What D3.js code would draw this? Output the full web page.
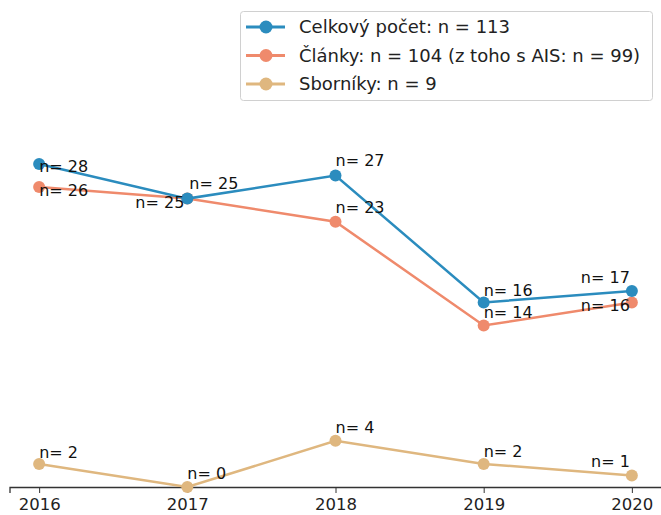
<!DOCTYPE html>
<html>
<head>
<meta charset="utf-8">
<script src="https://cdn.jsdelivr.net/npm/d3@7"></script>
<style>
    body { margin: 0; background: #fff; }
    text { font-family: "DejaVu Sans", sans-serif; }
</style>
</head>
<body>
<div id="chart"></div>
<script>
var years = [2016, 2017, 2018, 2019, 2020];
var celkem = [28, 25, 27, 16, 17];
var clanky = [26, 25, 23, 14, 16];
var sborniky = [2, 0, 4, 2, 1];
var seriesNames = [
    'Celkový počet: n = 113',
    'Články: n = 104 (z toho s AIS: n = 99)',
    'Sborníky: n = 9'
];

// label placement per point: [dx, dy of text center, anchor]
var labelPos = [
    [[0, 2, 'start'], [2, -15, 'start'], [0, -15, 'start'], [0, -12, 'start'], [-2, -13, 'end']],
    [[0, 3, 'start'], [-3, 4, 'end'], [0, -14, 'start'], [0, -13, 'start'], [-2, 3, 'end']],
    [[0, -12, 'start'], [0, -14, 'start'], [0, -13, 'start'], [0, -13, 'start'], [-2, -14, 'end']]
];

function drawChart(selector) {
    var width = 661, height = 515;
    var colors = ['#2b8cbe', '#ef8a6c', '#dfb77f'];
    var data = [celkem, clanky, sborniky];

    var svg = d3.select(selector).append('svg')
        .attr('width', width)
        .attr('height', height);

    var x = d3.scaleLinear()
        .domain([years[0] - 0.2, years[years.length - 1] + 0.2])
        .range([9.5, 661.5]);
    var y = d3.scaleLinear()
        .domain([0, 28])
        .range([487, 164]);

    var xAxis = d3.axisBottom(x)
        .tickValues(years)
        .tickFormat(d3.format('d'))
        .tickSize(6)
        .tickPadding(5);

    var gx = svg.append('g')
        .attr('transform', 'translate(0,' + 487 + ')')
        .call(xAxis);
    gx.select('.domain').attr('stroke', '#333').attr('stroke-width', 1.3);
    gx.selectAll('.tick line').attr('stroke', '#333');
    gx.selectAll('.tick text')
        .attr('fill', '#222')
        .style('font-size', '16.5px')
        .style('font-family', '"DejaVu Sans", sans-serif');

    var line = d3.line()
        .x(function(d, i) { return x(years[i]); })
        .y(function(d) { return y(d); });

    // draw bottom series first so the blue one sits on top
    [2, 1, 0].forEach(function(s) {
        var g = svg.append('g').attr('class', 'series');
        g.append('path')
            .datum(data[s])
            .attr('d', line)
            .attr('fill', 'none')
            .attr('stroke', colors[s])
            .attr('stroke-width', 2.5);
        g.selectAll('circle')
            .data(data[s])
            .enter()
            .append('circle')
            .attr('cx', function(d, i) { return x(years[i]); })
            .attr('cy', function(d) { return y(d); })
            .attr('r', 6)
            .attr('fill', colors[s]);
    });

    [0, 1, 2].forEach(function(s) {
        svg.append('g').selectAll('text')
            .data(data[s])
            .enter()
            .append('text')
            .attr('x', function(d, i) { return x(years[i]) + labelPos[s][i][0]; })
            .attr('y', function(d, i) { return y(d) + labelPos[s][i][1]; })
            .attr('dy', '0.35em')
            .attr('text-anchor', function(d, i) { return labelPos[s][i][2]; })
            .style('font-size', '16px')
            .attr('fill', '#111')
            .text(function(d) { return 'n= ' + d; });
    });

    // legend
    var legend = svg.append('g').attr('transform', 'translate(240,11)');
    legend.append('rect')
        .attr('x', 0.5).attr('y', 0.5)
        .attr('width', 412).attr('height', 89)
        .attr('rx', 3)
        .attr('fill', '#fff')
        .attr('fill-opacity', 0.8)
        .attr('stroke', '#d0d0d0');
    var item = legend.selectAll('g.item')
        .data(seriesNames)
        .enter()
        .append('g')
        .attr('class', 'item')
        .attr('transform', function(d, i) { return 'translate(0,' + (16 + i * 28.5) + ')'; });
    item.append('line')
        .attr('x1', 6).attr('x2', 45)
        .attr('stroke', function(d, i) { return colors[i]; })
        .attr('stroke-width', 3);
    item.append('circle')
        .attr('cx', 26).attr('r', 6.5)
        .attr('fill', function(d, i) { return colors[i]; });
    item.append('text')
        .attr('x', 59)
        .attr('dy', '0.35em')
        .style('font-size', '18px')
        .attr('fill', '#222')
        .text(function(d) { return d; });
}

drawChart('#chart');
</script>
</body>
</html>
